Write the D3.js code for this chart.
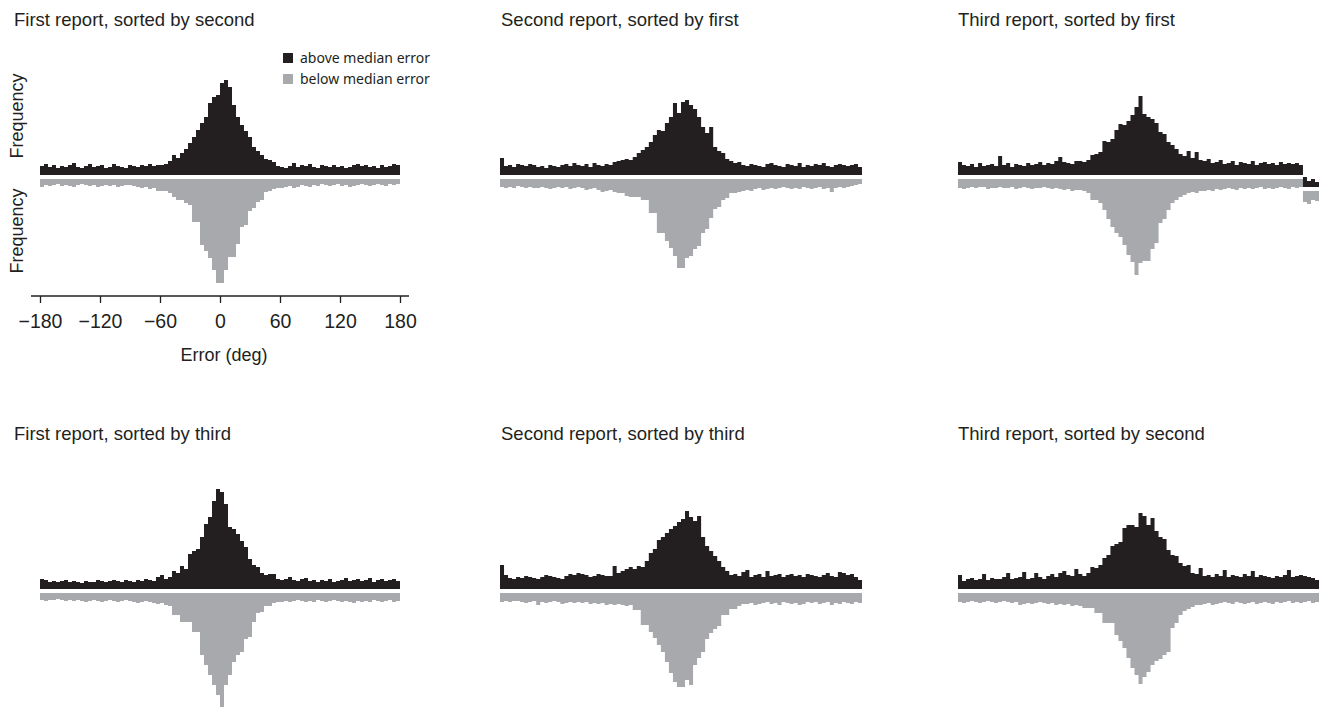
<!DOCTYPE html>
<html>
<head>
<meta charset="utf-8">
<script src="https://cdn.jsdelivr.net/npm/d3@7"></script>
<style>
  html, body { margin: 0; padding: 0; background: #fff; }
  svg { display: block; }
  .title { font-family: "Liberation Sans", Arial, sans-serif; font-size: 18.5px; fill: #231f20; }
  .tick text { font-family: "Liberation Sans", Arial, sans-serif; font-size: 19.5px; fill: #231f20; }
  .axis-label { font-family: "Liberation Sans", Arial, sans-serif; font-size: 18px; fill: #231f20; }
  .legend text { font-family: "Noto Sans", sans-serif; font-size: 14px; fill: #231f20; }
</style>
</head>
<body>
<svg id="chart" width="1331" height="707"></svg>
<script>

// bins of 4 deg from -180 to 180
const binStarts  = d3.range(-180, 180, 4);
const tickValues = [-180, -120, -60, 0, 60, 120, 180];

const firstBySecondAbove = [9,11,8,10,7,9,8,10,12,8,7,9,11,8,9,10,7,8,11,9,8,7,10,9,8,10,9,11,9,10,
  10,11,14,20,17,22,26,32,38,45,52,58,72,78,80,92,95,88,70,58,50,44,38,28,24,20,16,15,13,9,8,
  7,9,12,8,10,9,11,8,7,10,9,8,10,8,9,7,8,10,11,9,10,8,9,7,10,8,9,11,10];
const firstBySecondBelow = [8,6,7,6,5,7,6,7,8,6,5,6,7,6,8,7,6,7,6,8,7,6,6,7,8,9,8,10,9,12,
  12,12,14,18,21,21,24,26,43,43,66,72,79,91,104,104,91,78,78,65,48,46,32,29,23,21,13,12,10,9,9,
  8,7,9,8,6,7,8,6,7,5,6,7,6,5,7,6,8,7,6,5,6,7,6,5,6,7,5,6,5];

const secondByFirstAbove = [17,9,10,8,11,10,9,11,10,8,9,7,10,9,8,10,11,9,12,10,9,11,8,12,10,9,11,10,13,14,
  15,16,15,18,22,25,28,33,40,45,44,52,58,72,62,73,75,70,66,58,48,42,48,28,24,22,16,14,12,13,10,
  9,11,10,9,8,11,12,10,9,8,11,10,9,12,8,10,9,11,10,12,9,8,10,11,10,9,10,11,8];
const secondByFirstBelow = [8,9,8,9,7,8,9,8,9,9,8,9,10,9,8,9,8,10,9,8,9,11,10,9,11,13,12,11,13,14,
  14,17,18,18,18,21,21,34,34,54,54,62,69,77,89,89,79,77,70,67,54,50,39,30,28,21,19,14,14,13,12,
  11,12,10,9,11,10,9,10,9,8,9,10,9,10,8,9,10,9,8,10,9,13,9,8,9,8,7,6,5];

const thirdByFirstAbove = [13,10,9,11,8,12,9,10,11,9,19,10,12,8,11,10,9,12,10,11,13,10,12,11,14,18,13,12,11,14,
  14,13,15,20,21,23,34,33,36,45,51,50,54,60,68,79,61,58,56,52,43,41,33,30,26,21,19,24,17,23,15,
  14,16,12,13,15,11,12,14,10,13,12,11,14,10,12,13,11,12,10,13,11,12,11,12,10,
  10,6,8,5];
const thirdByFirstBelow = [9,10,9,8,9,8,8,10,9,9,8,9,9,8,10,9,8,9,10,9,9,8,9,10,9,10,11,10,12,11,
  11,12,14,21,21,24,31,40,48,54,58,66,76,83,96,84,82,82,70,64,44,40,31,24,21,18,16,14,13,14,12,
  12,11,12,10,11,10,9,10,11,9,10,9,10,9,8,10,9,10,9,8,9,10,8,9,8,
  11,13,9,10];

const firstByThirdAbove = [10,9,7,8,7,8,9,7,8,7,6,8,7,7,9,8,7,8,9,8,7,9,8,7,9,8,10,9,8,12,
  14,10,12,18,16,23,20,35,38,40,52,65,72,88,100,97,85,62,60,55,48,42,30,24,22,16,14,15,15,10,9,
  10,12,9,8,10,11,8,9,7,9,8,10,7,8,9,11,8,9,10,8,9,11,7,9,10,8,9,10,8];
const firstByThirdBelow = [7,8,7,7,6,7,8,7,8,7,8,9,8,7,8,9,8,7,8,9,8,7,8,9,10,9,8,9,10,11,
  10,12,13,22,22,29,29,29,39,39,62,72,82,92,102,114,92,82,69,62,59,46,44,29,20,19,13,13,10,9,9,
  8,9,8,7,8,9,8,9,7,8,9,8,7,8,9,8,9,10,8,9,8,9,7,8,9,8,7,9,8];

const secondByThirdAbove = [24,14,11,10,12,11,13,12,11,10,12,14,13,12,11,10,13,15,14,16,15,14,12,13,15,14,13,13,23,16,
  18,20,22,20,23,22,28,36,40,49,52,56,60,63,67,70,78,72,68,73,52,43,38,33,28,22,18,14,15,13,17,
  19,12,14,15,12,18,13,14,15,12,14,15,13,14,12,15,14,13,12,14,16,13,12,17,16,14,15,12,9];
const secondByThirdBelow = [9,8,9,8,8,9,10,9,8,12,9,10,9,8,9,11,10,9,10,9,10,9,11,10,11,10,12,11,12,11,
  12,13,12,17,17,32,32,39,45,52,59,69,80,89,94,94,87,92,72,65,59,46,40,36,33,22,22,16,16,13,11,
  11,10,12,11,10,9,11,10,12,9,10,11,10,12,11,9,10,9,11,10,9,12,10,11,9,10,11,9,10];

const thirdBySecondAbove = [14,8,10,11,9,10,15,9,11,10,10,12,16,10,11,12,17,10,11,16,12,10,13,15,12,16,18,14,13,20,
  15,13,16,22,21,24,31,34,43,45,47,61,64,64,62,76,73,64,71,58,52,50,39,34,33,26,23,24,16,15,21,
  13,14,12,15,13,19,12,14,13,12,15,13,18,12,14,13,12,11,13,12,14,19,12,13,14,13,12,11,9];
const thirdBySecondBelow = [9,10,9,8,9,10,9,8,9,10,9,8,9,10,9,12,11,10,11,10,9,10,11,10,12,11,12,11,13,12,
  13,15,15,15,20,20,30,30,30,42,48,55,65,75,82,91,84,79,72,68,66,62,59,35,30,22,18,16,14,12,12,
  11,10,12,11,10,9,10,11,9,10,11,10,9,11,10,9,10,11,9,10,9,8,10,9,10,9,8,10,9];

const legendLabels = ['above median error', 'below median error'];

const panels = [
  {title: 'First report, sorted by second', row: 0, col: 0, above: firstBySecondAbove, below: firstBySecondBelow, axis: true},
  {title: 'Second report, sorted by first', row: 0, col: 1, above: secondByFirstAbove, below: secondByFirstBelow},
  {title: 'Third report, sorted by first',  row: 0, col: 2, above: thirdByFirstAbove,  below: thirdByFirstBelow, drift: {from: 164, px: 12}},
  {title: 'First report, sorted by third',  row: 1, col: 0, above: firstByThirdAbove,  below: firstByThirdBelow},
  {title: 'Second report, sorted by third', row: 1, col: 1, above: secondByThirdAbove, below: secondByThirdBelow},
  {title: 'Third report, sorted by second', row: 1, col: 2, above: thirdBySecondAbove, below: thirdBySecondBelow}
];

const BLACK = '#231f20';
const GRAY  = '#a7a9ac';

const colRange = [[40, 400], [500, 862], [958, 1319]];
const rowTop   = [0, 414];
const titleX   = [14, 501, 958];

const svg = d3.select('#chart');

const hScale = d3.scaleLinear().domain([0, 120]).range([0, 120]);


panels.forEach(p => {
  const top   = rowTop[p.row];
  const base  = top + 175;   // bottom of black bars
  const gTop  = top + 179;   // top of gray bars
  const x     = d3.scaleLinear().domain([-180, 180]).range(colRange[p.col]);

  svg.append('text')
      .attr('class', 'title')
      .attr('x', titleX[p.col])
      .attr('y', top + 26)
      .text(p.title);

  const g = svg.append('g');

  const cut = p.drift ? p.drift.from : 180;
  const segments = [{lo: -180, hi: cut, shift: 0}];
  if (p.drift) segments.push({lo: cut, hi: 180, shift: p.drift.px});

  segments.forEach(seg => {
    drawHalf(g, p.above, x, seg, v => base + seg.shift - hScale(v), base + seg.shift, BLACK);
    drawHalf(g, p.below, x, seg, v => gTop + seg.shift + hScale(v), gTop + seg.shift, GRAY);
  });

  if (p.axis) drawAxis(x, top);
});


function drawHalf(g, values, x, seg, yOf, y0, color) {
  const pts = [];
  binStarts.forEach((b, i) => {
    if (b >= seg.lo && b < seg.hi) pts.push({x: b, v: values[i]});
  });
  pts.push({x: seg.hi, v: pts[pts.length - 1].v});

  const area = d3.area()
    .curve(d3.curveStepAfter)
    .x(d => x(d.x))
    .y0(y0)
    .y1(d => yOf(d.v));

  g.append('path')
      .datum(pts)
      .attr('d', area)
      .attr('fill', color);
}


function drawAxis(x, top) {
  const axisY = top + 296;
  const axis = d3.axisBottom(x)
    .tickValues(tickValues)
    .tickSize(7)
    .tickSizeOuter(0)
    .tickPadding(11)
    .tickFormat(d => d < 0 ? '\u2212' + Math.abs(d) : d);

  const ag = svg.append('g')
      .attr('transform', `translate(0,${axisY})`)
      .call(axis);
  ag.select('.domain').remove();
  ag.selectAll('.tick line').attr('stroke', BLACK).attr('stroke-width', 1.3);

  const [r0, r1] = x.range();
  ag.append('line')
      .attr('x1', r0 - 9).attr('x2', r1 + 9)
      .attr('stroke', BLACK)
      .attr('stroke-width', 1.3);

  svg.append('text')
      .attr('class', 'axis-label')
      .attr('x', x(0) + 4)
      .attr('y', top + 361)
      .attr('text-anchor', 'middle')
      .text('Error (deg)');

  // y labels, one for each half
  [116, 231].forEach(cy => {
    svg.append('text')
        .attr('class', 'axis-label')
        .attr('transform', `translate(23,${top + cy}) rotate(-90)`)
        .attr('text-anchor', 'middle')
        .text('Frequency');
  });

  const lg = svg.append('g').attr('class', 'legend');
  legendLabels.forEach((label, i) => {
    const ly = top + 53 + i * 21;
    lg.append('rect')
        .attr('x', 283).attr('y', ly)
        .attr('width', 10).attr('height', 10)
        .attr('fill', i === 0 ? BLACK : GRAY);
    lg.append('text')
        .attr('x', 300).attr('y', ly + 9.5)
        .text(label);
  });
}

</script>
</body>
</html>
